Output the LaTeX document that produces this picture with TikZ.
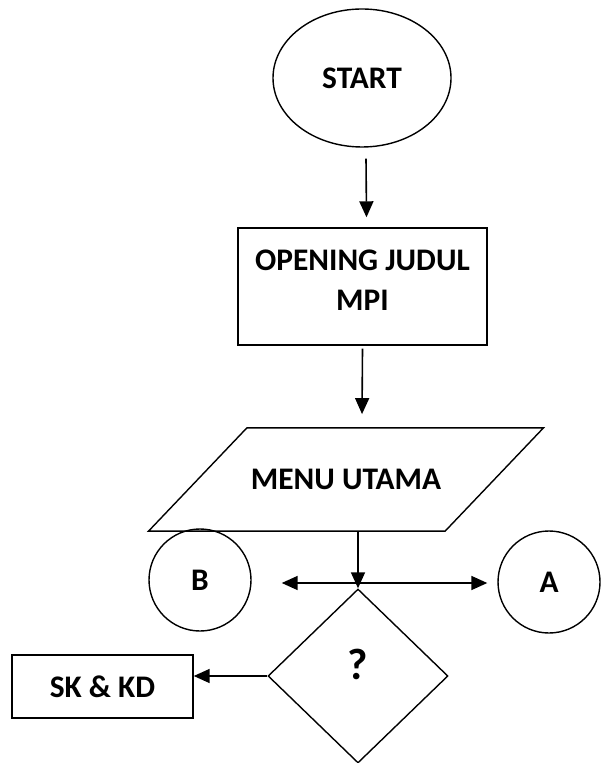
\documentclass[tikz,border=0pt]{standalone}
\usepackage{fontspec}
\setmainfont{Carlito}
\usetikzlibrary{shapes.geometric,arrows.meta,positioning}

\begin{document}
\begin{tikzpicture}[
  x=0.5pt, y=-0.5pt,
  every node/.style={font=\bfseries\fontsize{15.7}{20}\selectfont, line width=0.7pt},
  terminal/.style={draw, ellipse, minimum width=89pt, minimum height=69pt, inner sep=0pt},
  box/.style={draw, rectangle, inner sep=0pt, align=center},
  io/.style={draw, trapezium, trapezium left angle=46.4, trapezium right angle=133.6,
             inner xsep=2pt, inner ysep=20.7pt},
  decide/.style={draw, diamond, minimum width=90pt, minimum height=87pt, inner sep=0pt},
  connector/.style={draw, circle, minimum size=51pt, inner sep=0pt},
  arr/.style={line width=0.8pt, -{Triangle[length=8pt,width=7pt]}}
]
\useasboundingbox (0,0) rectangle (601,763);

\node[terminal] (start) at (362,78) {START};
\node[box, minimum width=124.5pt, minimum height=58.5pt] (opening) at (362.5,286.5) {};
\node[align=center] (judul) at (362.5,280) {OPENING JUDUL\\MPI};
\node[io] (menu) at (346,479.5) {MENU UTAMA};
\node[decide] (q) at (358,676) {};
\node (tanya) at (358,664) {\fontsize{22}{26}\selectfont ?};
\node[connector] (b) at (200,580) {B};
\node[connector] (a) at (549,582) {A};
\node[box, minimum width=90.5pt, minimum height=31.5pt] (sk) at (102.5,686.5) {SK \& KD};
\coordinate (hub) at (358,583);

% alur utama
\draw[arr] ([xshift=2pt,yshift=-5.5pt]start.south) -- ([xshift=2pt,yshift=5pt]opening.north);
\draw[arr] ([yshift=-1.5pt]opening.south) -- ([xshift=8pt,yshift=6.5pt]menu.north);
\draw[arr] (q.north |- menu.south) -- (q.north);
\draw[arr] (hub) -- (hub -| b.east) [shorten >=15pt];
\draw[arr] (hub) -- (hub -| a.west) [shorten >=5pt];
\draw[arr] (q.west) -- (sk.east |- q.west);
\end{tikzpicture}
\end{document}
